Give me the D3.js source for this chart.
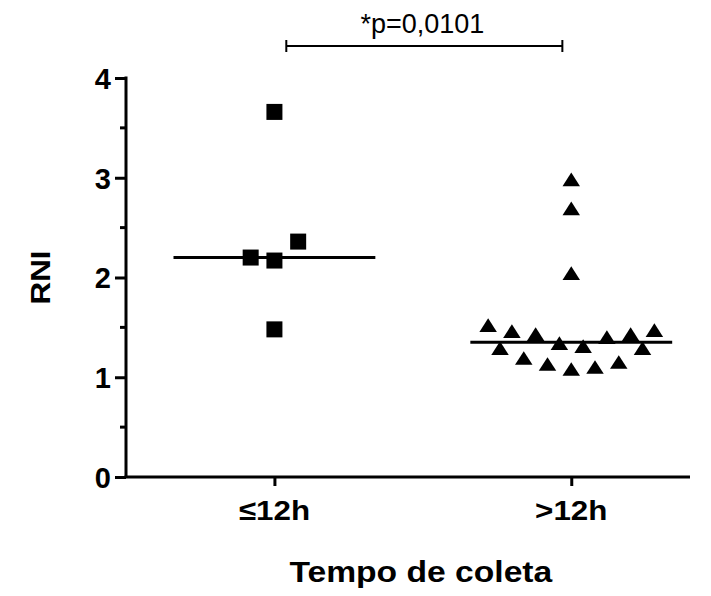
<!DOCTYPE html>
<html>
<head>
<meta charset="utf-8">
<script src="https://cdn.jsdelivr.net/npm/d3@7"></script>
<style>
  body { margin: 0; background: #fff; }
  text { font-family: "Liberation Sans", Arial, sans-serif; fill: #000; }
</style>
</head>
<body>
<svg id="chart" width="711" height="596"></svg>
<script>
// groups and tick labels
const categories = ["\u226412h", ">12h"];
const catPos = [1, 2];
const yTicks = [0, 1, 2, 3, 4];
const yMinor = [0.5, 1.5, 2.5, 3.5];

// group 1 (squares): jittered x, RNI value
const g1x = [1.00, 1.08, 0.92, 1.00, 1.00];
const g1y = [3.66, 2.36, 2.20, 2.17, 1.48];

// group 2 (triangles)
const g2x = [2.00, 2.00, 2.00, 1.72, 1.76, 1.80, 1.84, 1.88, 1.92, 1.96, 2.00, 2.04, 2.08, 2.12, 2.16, 2.20, 2.24, 2.28];
const g2y = [2.96, 2.67, 2.02, 1.50, 1.27, 1.44, 1.17, 1.41, 1.11, 1.32, 1.06, 1.29, 1.08, 1.38, 1.13, 1.41, 1.27, 1.45];

const pLabel = "*p=0,0101";

const svg = d3.select("#chart");
const sx = 1.12; // text looks a bit stretched horizontally

const x = d3.scaleLinear().domain([0.5, 2.4]).range([126, 690]);
const y = d3.scaleLinear().domain([0, 4]).range([477, 78]);

// y axis
const yAxis = svg.append("g")
  .attr("transform", `translate(${x(0.5)},0)`)
  .call(d3.axisLeft(y).tickValues(yTicks).tickSize(11).tickPadding(4).tickFormat(d3.format("d")));
yAxis.select(".domain").attr("stroke-width", 3).attr("d", `M0,${y(4) - 1.5}V${y(0)}`);
yAxis.selectAll(".tick line").attr("stroke-width", 3);
yAxis.selectAll(".tick text")
  .attr("font-size", 29).attr("font-weight", "bold")
  .attr("font-family", "Liberation Sans, Arial, sans-serif")
  .attr("dy", "0.36em");

svg.append("g")
  .attr("transform", `translate(${x(0.5)},0)`)
  .selectAll("line").data(yMinor).join("line")
  .attr("x1", -6).attr("x2", 0)
  .attr("y1", d => y(d)).attr("y2", d => y(d))
  .attr("stroke", "#000").attr("stroke-width", 3);

// x axis
const xAxis = svg.append("g")
  .attr("transform", `translate(0,${y(0)})`)
  .call(d3.axisBottom(x).tickValues(catPos).tickSize(9).tickPadding(0).tickFormat(() => ""));
xAxis.select(".domain").attr("stroke-width", 3).attr("d", `M${x(0.5) - 1.5},0H${x(2.4)}`);
xAxis.selectAll(".tick line").attr("stroke-width", 3);

svg.append("g").selectAll("text").data(categories).join("text")
  .attr("transform", (d, i) => `translate(${x(catPos[i])},520) scale(${sx},1)`)
  .attr("text-anchor", "middle")
  .attr("font-size", 28).attr("font-weight", "bold")
  .text(d => d);

// medians
const medHalf = 0.34;
const meds = [d3.median(g1y), d3.median(g2y)];
svg.append("g").selectAll("line").data(meds).join("line")
  .attr("x1", (d, i) => x(catPos[i] - medHalf))
  .attr("x2", (d, i) => x(catPos[i] + medHalf))
  .attr("y1", d => y(d)).attr("y2", d => y(d))
  .attr("stroke", "#000").attr("stroke-width", 3);

// points
const sq = 16;
svg.append("g").selectAll("rect").data(g1y).join("rect")
  .attr("x", (d, i) => x(g1x[i]) - sq / 2)
  .attr("y", d => y(d) - sq / 2)
  .attr("width", sq).attr("height", sq)
  .attr("fill", "#000");

const tri = d3.symbol().type(d3.symbolTriangle).size(120);
svg.append("g").selectAll("path").data(g2y).join("path")
  .attr("transform", (d, i) => `translate(${x(g2x[i])},${y(d)}) scale(1.05,0.95)`)
  .attr("d", tri)
  .attr("fill", "#000");

// significance bar
const barY = 46;
const sig = svg.append("g").attr("stroke", "#000").attr("stroke-width", 2);
sig.append("line").attr("x1", x(1.04)).attr("x2", x(1.97)).attr("y1", barY).attr("y2", barY);
sig.append("line").attr("x1", x(1.04)).attr("x2", x(1.04)).attr("y1", barY - 6).attr("y2", barY + 6);
sig.append("line").attr("x1", x(1.97)).attr("x2", x(1.97)).attr("y1", barY - 6).attr("y2", barY + 6);

svg.append("text")
  .attr("x", (x(1.04) + x(1.97)) / 2 - 2).attr("y", 33)
  .attr("text-anchor", "middle")
  .attr("font-size", 27)
  .text(pLabel);

// axis titles
svg.append("text")
  .attr("transform", `translate(50,${y(2)}) rotate(-90) scale(${sx},1)`)
  .attr("text-anchor", "middle")
  .attr("font-size", 28).attr("font-weight", "bold")
  .text("RNI");

svg.append("text")
  .attr("transform", `translate(${x(1.5) - 2},582) scale(1.16,1)`)
  .attr("text-anchor", "middle")
  .attr("font-size", 29).attr("font-weight", "bold")
  .text("Tempo de coleta");
</script>
</body>
</html>
